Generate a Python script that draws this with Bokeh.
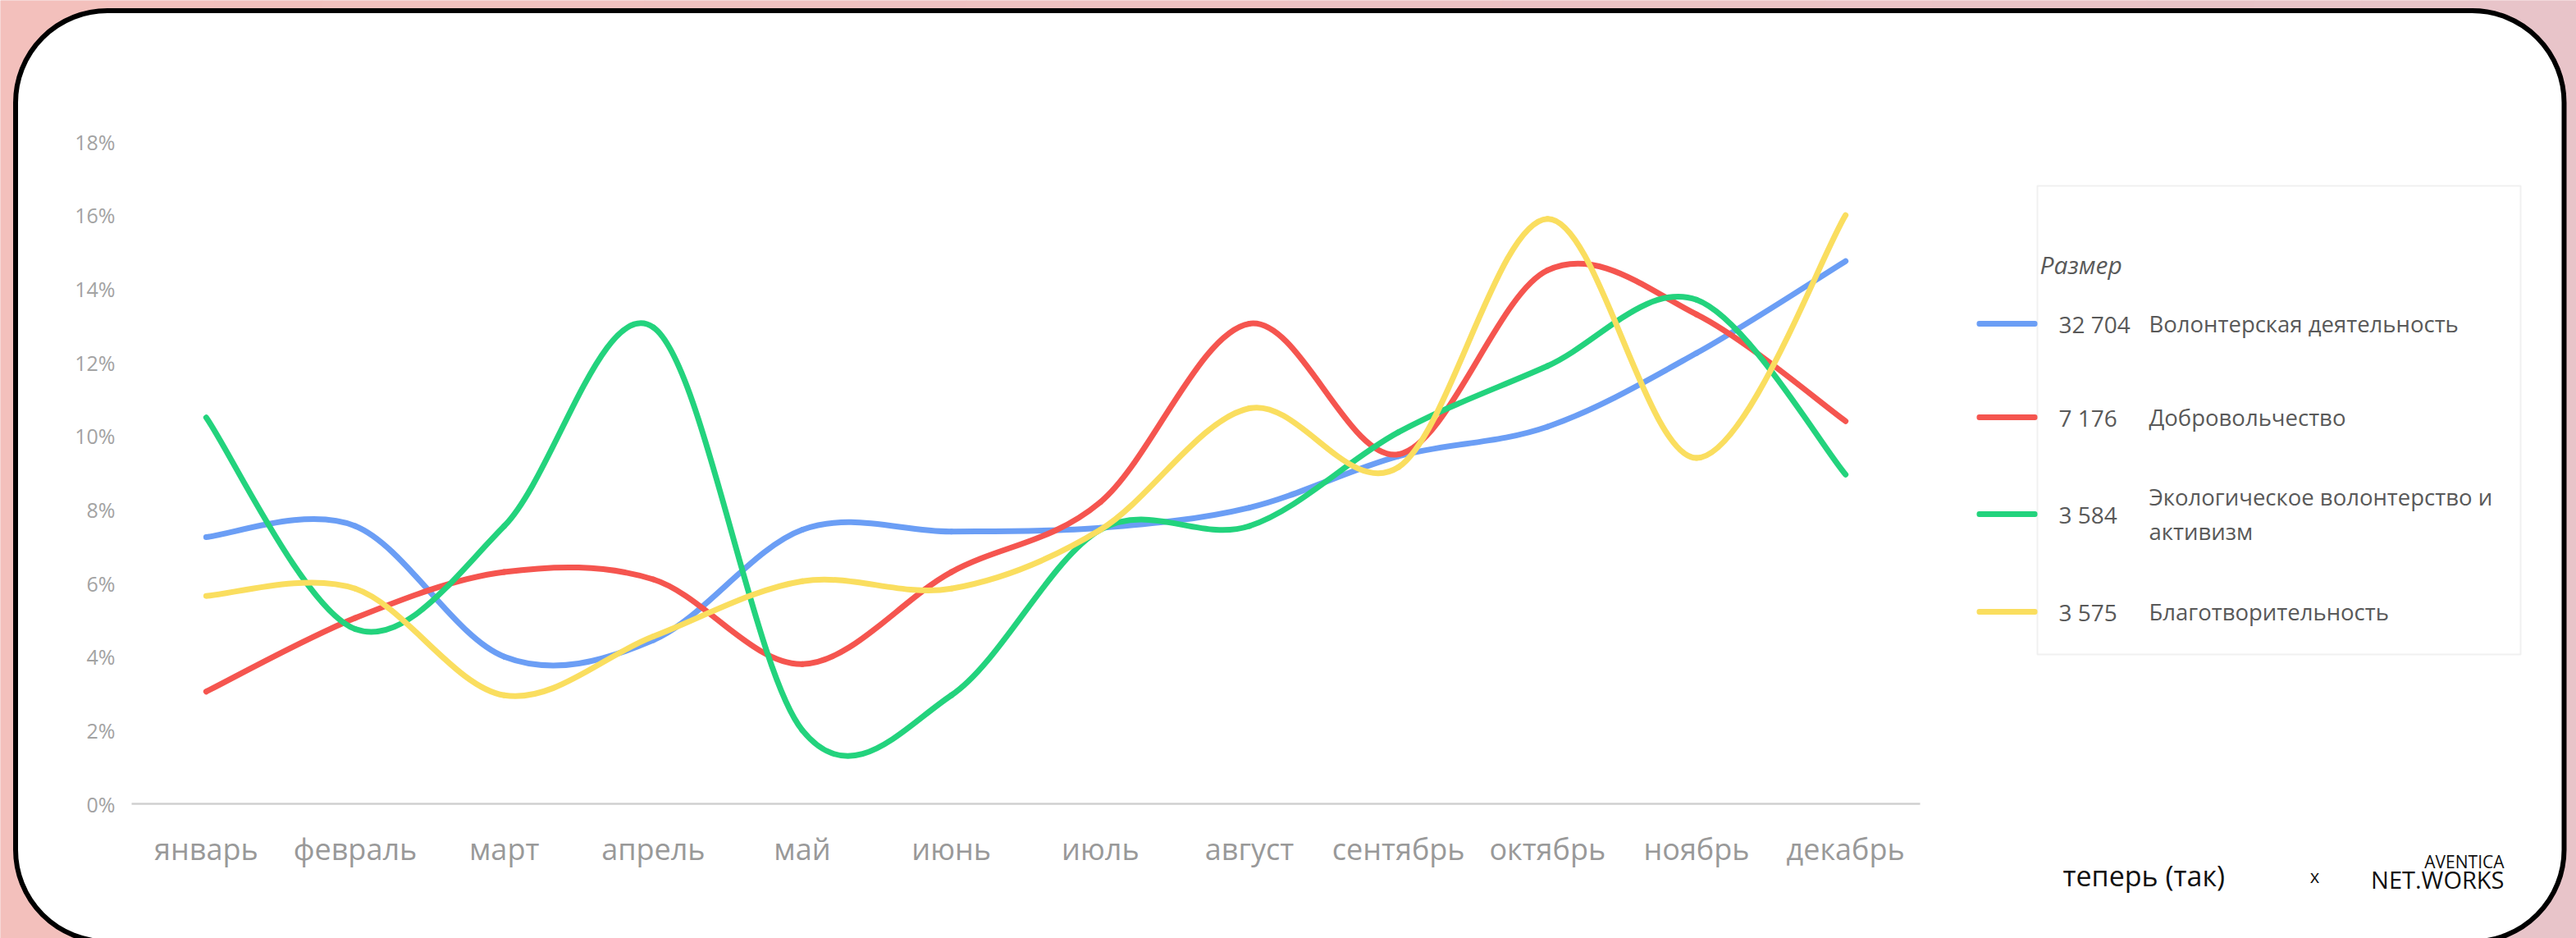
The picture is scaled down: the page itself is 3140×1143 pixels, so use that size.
from bokeh.plotting import figure
from bokeh.models import Range1d, FixedTicker, PrintfTickFormatter, BoxAnnotation, Label
from bokeh.embed import file_html
from bokeh.resources import INLINE

# ---------------- data ----------------
months = ["январь", "февраль", "март", "апрель", "май", "июнь", "июль",
          "август", "сентябрь", "октябрь", "ноябрь", "декабрь"]
y_ticks = [0, 2, 4, 6, 8, 10, 12, 14, 16, 18]

volunteer = [7.25, 7.55, 4.0, 4.45, 7.45, 7.4, 7.5, 8.05, 9.45, 10.25, 12.25, 14.75]
dobro = [3.05, 5.05, 6.3, 6.1, 3.8, 6.3, 8.2, 13.05, 9.5, 14.5, 13.3, 10.4]
eco = [10.5, 4.75, 7.55, 12.95, 2.0, 2.95, 7.45, 7.55, 10.1, 11.9, 13.7, 8.95]
charity = [5.65, 5.85, 2.95, 4.55, 6.05, 5.85, 7.45, 10.75, 9.15, 15.9, 9.4, 16.0]

legend_title = "Размер"
legend_counts = ["32 704", "7 176", "3 584", "3 575"]
legend_labels = [["Волонтерская деятельность"], ["Добровольчество"],
                 ["Экологическое волонтерство и", "активизм"], ["Благотворительность"]]
colors = ["#6B9EF5", "#F5554F", "#23D37D", "#FADE5F"]
series = [volunteer, dobro, eco, charity]

FONT = "Open Sans"
W, H = 3140, 1143

# layout (canvas px): where the value axis 0..18 and the month slots sit
PX_Y0, PX_Y18 = 979.0, 172.0
PX_LEFT, PX_RIGHT = 160.0, 2340.0
ppu_y = (PX_Y0 - PX_Y18) / 18.0
ppu_x = (PX_RIGHT - PX_LEFT) / 12.0
y_start = -(H - PX_Y0) / ppu_y
y_end = 18 + PX_Y18 / ppu_y
x_start = -0.5 - PX_LEFT / ppu_x
x_end = x_start + W / ppu_x

p = figure(width=W, height=H, x_range=Range1d(x_start, x_end), y_range=Range1d(y_start, y_end),
           output_backend="svg", toolbar_location=None,
           min_border_left=0, min_border_right=0, min_border_top=0, min_border_bottom=0,
           border_fill_color="#EEC2C2", background_fill_color="#EEC2C2", outline_line_color=None)
p.xgrid.visible = False
p.ygrid.visible = False

def canvas_box(**kw):
    return BoxAnnotation(left_units="canvas", right_units="canvas",
                         top_units="canvas", bottom_units="canvas", **kw)

# ---------------- background (pink gradient + white rounded card) ----------------
left_c = (243, 192, 188)
right_c = (232, 196, 201)
n = 24
sw = W / n
for i in range(n):
    t = i / (n - 1)
    c = tuple(int(round(left_c[k] + (right_c[k] - left_c[k]) * t)) for k in range(3))
    p.add_layout(canvas_box(left=int(i * sw), right=int((i + 1) * sw) + 1, top=0, bottom=H,
                            fill_color="#%02x%02x%02x" % c, fill_alpha=1,
                            line_color=None, level="underlay"))

p.add_layout(canvas_box(left=18.5, right=3125, top=12.5, bottom=1147,
                        fill_color="white", fill_alpha=1, line_color="black",
                        line_width=6, line_alpha=1, border_radius=112, level="underlay"))

# ---------------- axes ----------------
xa = p.xaxis[0]
xa.ticker = FixedTicker(ticks=list(range(12)))
xa.major_label_overrides = {i: m for i, m in enumerate(months)}
xa.axis_line_color = None
xa.major_tick_line_color = None
xa.minor_tick_line_color = None
xa.major_tick_out = 0
xa.major_tick_in = 0
xa.major_label_text_font = FONT
xa.major_label_text_font_size = "36px"
xa.major_label_text_color = "#999999"
xa.major_label_standoff = -134

ya = p.yaxis[0]
ya.ticker = FixedTicker(ticks=y_ticks)
ya.formatter = PrintfTickFormatter(format="%d%%")
ya.axis_line_color = None
ya.major_tick_line_color = None
ya.minor_tick_line_color = None
ya.major_tick_out = 0
ya.major_tick_in = 0
ya.major_label_text_font = FONT
ya.major_label_text_font_size = "25px"
ya.major_label_text_color = "#A3A3A3"
ya.major_label_standoff = -140

# category axis base line (0%)
p.segment(x0=[-0.5], y0=[0], x1=[11.5], y1=[0], line_color="#D0D0D0", line_width=2.5)

# ---------------- smoothed lines (Catmull-Rom as Bezier) ----------------
xs = list(range(len(months)))
for ys, col in zip(series, colors):
    x0, y0, x1, y1, cx0, cy0, cx1, cy1 = [], [], [], [], [], [], [], []
    last = len(ys) - 1
    for i in range(last):
        a = max(i - 1, 0)
        d = min(i + 2, last)
        x0.append(xs[i]); y0.append(ys[i])
        x1.append(xs[i + 1]); y1.append(ys[i + 1])
        cx0.append(xs[i] + (xs[i + 1] - xs[a]) / 6.0)
        cy0.append(ys[i] + (ys[i + 1] - ys[a]) / 6.0)
        cx1.append(xs[i + 1] - (xs[d] - xs[i]) / 6.0)
        cy1.append(ys[i + 1] - (ys[d] - ys[i]) / 6.0)
    p.bezier(x0=x0, y0=y0, x1=x1, y1=y1, cx0=cx0, cy0=cy0, cx1=cx1, cy1=cy1,
             line_color=col, line_width=7, line_cap="round")

# ---------------- legend (custom) ----------------
p.add_layout(canvas_box(left=2483, right=3072, top=226, bottom=797,
                        fill_color="white", fill_alpha=1, line_color="#CCCCCC",
                        line_width=2, level="annotation"))
p.add_layout(Label(x=2486, y=322, x_units="canvas", y_units="canvas", text=legend_title,
                   text_font=FONT, text_font_style="italic", text_font_size="30px",
                   text_color="#595959", text_baseline="alphabetic", text_align="left"))
row_y = [394, 508, 626, 745]
for cnt, lines, col, yy in zip(legend_counts, legend_labels, colors, row_y):
    p.add_layout(canvas_box(left=2409, right=2483, top=yy - 3.5, bottom=yy + 3.5,
                            fill_color=col, fill_alpha=1, line_color=None,
                            border_radius=3, level="annotation"))
    p.add_layout(Label(x=2509, y=yy, x_units="canvas", y_units="canvas", text=cnt,
                       text_font=FONT, text_font_size="28px", text_color="#595959",
                       text_baseline="middle", text_align="left"))
    offs = [0] if len(lines) == 1 else [-21, 21]
    for ln, o in zip(lines, offs):
        p.add_layout(Label(x=2619, y=yy + o, x_units="canvas", y_units="canvas", text=ln,
                           text_font=FONT, text_font_size="27.5px", text_color="#595959",
                           text_baseline="middle", text_align="left"))

# ---------------- footer logos ----------------
p.add_layout(Label(x=2514, y=1066, x_units="canvas", y_units="canvas", text="теперь (так)",
                   text_font=FONT, text_font_size="34px", text_color="#111111",
                   text_baseline="middle", text_align="left"))
p.add_layout(Label(x=2821, y=1066, x_units="canvas", y_units="canvas", text="x",
                   text_font=FONT, text_font_size="22px", text_color="#111111",
                   text_baseline="middle", text_align="center"))
p.add_layout(Label(x=3052, y=1049, x_units="canvas", y_units="canvas", text="AVENTICA",
                   text_font=FONT, text_font_size="21px", text_color="#111111",
                   text_baseline="middle", text_align="right"))
p.add_layout(Label(x=3052, y=1071, x_units="canvas", y_units="canvas", text="NET.WORKS",
                   text_font=FONT, text_font_size="29px", text_color="#111111",
                   text_baseline="middle", text_align="right"))

open("out.html", "w").write(file_html(p, INLINE))
